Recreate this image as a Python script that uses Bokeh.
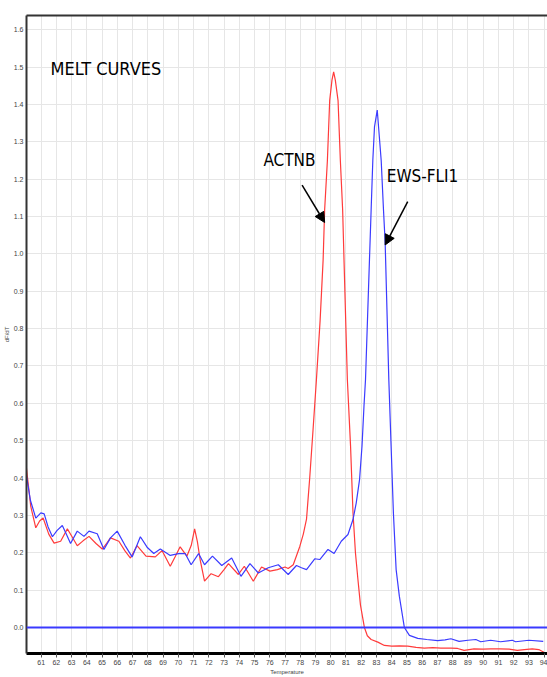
from bokeh.plotting import figure
from bokeh.models import (Range1d, FixedTicker, Span, Label, Arrow, NormalHead, LinearAxis)
from bokeh.embed import file_html
from bokeh.resources import INLINE

# ---------------- data ----------------
actnb_t = [60.0, 60.32, 60.65, 60.9, 61.13, 61.5, 61.85, 62.28, 62.72, 63.0, 63.37, 63.75,
           64.14, 64.6, 65.01, 65.3, 65.55, 66.1, 66.5, 66.86, 67.29, 67.88, 68.49, 68.93,
           69.47, 69.8, 70.12, 70.56, 70.85, 71.07, 71.25, 71.43, 71.72, 72.15, 72.63, 73.0,
           73.29, 73.94, 74.33, 74.92, 75.46, 76.01, 76.5, 77.0, 77.21, 77.54, 77.97, 78.2,
           78.41, 78.62, 78.84, 79.06, 79.3, 79.5, 79.6, 79.78, 79.93, 80.08, 80.19, 80.3,
           80.48, 80.63, 80.78, 80.87, 81.09, 81.3, 81.46, 81.62, 81.78, 81.95, 82.21, 82.4,
           82.65, 83.09, 83.52, 84.0, 84.5, 85.05, 85.6, 86.14, 86.7, 87.23, 87.88, 88.32,
           88.75, 89.4, 90.0, 90.5, 91.08, 91.7, 92.24, 92.7, 93.22, 93.65, 93.98]
actnb_v = [0.44, 0.324, 0.267, 0.285, 0.293, 0.25, 0.226, 0.231, 0.264, 0.245, 0.219, 0.232,
           0.244, 0.225, 0.21, 0.225, 0.24, 0.231, 0.205, 0.186, 0.219, 0.191, 0.189, 0.206,
           0.164, 0.19, 0.216, 0.191, 0.22, 0.264, 0.23, 0.182, 0.124, 0.144, 0.136, 0.155,
           0.171, 0.142, 0.164, 0.124, 0.162, 0.151, 0.155, 0.162, 0.158, 0.168, 0.217, 0.25,
           0.29, 0.40, 0.53, 0.663, 0.82, 0.984, 1.118, 1.25, 1.41, 1.465, 1.487, 1.465,
           1.41, 1.25, 1.118, 0.984, 0.663, 0.485, 0.307, 0.2, 0.13, 0.06, 0.0, -0.022,
           -0.032, -0.039, -0.048, -0.05, -0.049, -0.05, -0.053, -0.055, -0.054, -0.055, -0.055, -0.056,
           -0.061, -0.057, -0.058, -0.057, -0.057, -0.058, -0.061, -0.059, -0.057, -0.059, -0.066]

ews_t = [60.0, 60.3, 60.65, 60.98, 61.2, 61.45, 61.74, 62.05, 62.39, 62.65, 62.93, 63.37,
         63.81, 64.14, 64.68, 65.12, 65.55, 65.99, 66.5, 66.97, 67.51, 67.95, 68.39, 68.82,
         69.47, 70.02, 70.45, 70.84, 71.33, 71.72, 72.24, 72.85, 73.5, 74.11, 74.7, 75.25,
         75.9, 76.56, 77.21, 77.75, 78.08, 78.41, 78.95, 79.28, 79.82, 80.22, 80.69, 81.13,
         81.46, 81.67, 81.89, 82.05, 82.18, 82.28, 82.54, 82.65, 82.76, 82.87, 83.05, 83.31,
         83.46, 83.57, 83.81, 83.96, 84.11, 84.29, 84.5, 84.83, 85.16, 85.71, 86.3, 87.01,
         87.5, 87.88, 88.42, 89.0, 89.52, 89.84, 90.49, 91.14, 91.91, 92.13, 93.0, 93.94]
ews_v = [0.415, 0.34, 0.293, 0.307, 0.304, 0.27, 0.243, 0.26, 0.273, 0.25, 0.225, 0.258,
         0.244, 0.258, 0.251, 0.209, 0.24, 0.258, 0.22, 0.189, 0.243, 0.215, 0.198, 0.21,
         0.193, 0.198, 0.198, 0.168, 0.198, 0.168, 0.191, 0.166, 0.186, 0.137, 0.171, 0.146,
         0.16, 0.168, 0.142, 0.166, 0.16, 0.155, 0.184, 0.182, 0.209, 0.198, 0.231, 0.249,
         0.289, 0.333, 0.396, 0.485, 0.592, 0.663, 0.984, 1.118, 1.25, 1.34, 1.385, 1.25,
         1.118, 1.03, 0.663, 0.485, 0.307, 0.155, 0.084, 0.0, -0.021, -0.029, -0.032, -0.035,
         -0.033, -0.03, -0.037, -0.034, -0.032, -0.038, -0.034, -0.038, -0.034, -0.038, -0.034, -0.037]

x_ticks = list(range(61, 95))
x_tick_labels = [str(t) for t in x_ticks]
y_ticks = [0.0, 0.1, 0.2, 0.3, 0.4, 0.5, 0.6, 0.7, 0.8, 0.9, 1.0, 1.1, 1.2, 1.3, 1.4, 1.5, 1.6]
y_tick_labels = ["%.1f" % t for t in y_ticks]

title_text = "MELT CURVES"
series_names = ["ACTNB", "EWS-FLI1"]
x_label = "Temperature"
y_label = "dF/dT"

# ---------------- figure ----------------
NARROW = "'Liberation Sans Narrow', 'DejaVu Sans Condensed', 'Liberation Sans', sans-serif"
SANS = "Liberation Sans"

p = figure(width=547, height=677, output_backend="svg", toolbar_location=None,
           x_range=Range1d(60.04, 94.22), y_range=Range1d(-0.0695, 1.638),
           min_border_left=24, min_border_right=0, min_border_top=15, min_border_bottom=23,
           background_fill_color="white", border_fill_color="white")
p.outline_line_color = None

# axes
p.xaxis.ticker = FixedTicker(ticks=x_ticks)
p.xaxis.major_label_overrides = {t: l for t, l in zip(x_ticks, x_tick_labels)}
p.yaxis.ticker = FixedTicker(ticks=y_ticks)
p.yaxis.major_label_overrides = {t: l for t, l in zip(y_ticks, y_tick_labels)}

p.xaxis.axis_label = x_label
p.yaxis.axis_label = y_label
for ax in (p.xaxis, p.yaxis):
    ax.minor_tick_line_color = None
    ax.major_label_text_font = SANS
    ax.major_label_text_font_size = "7px"
    ax.major_label_text_color = "#444444"
    ax.axis_label_text_font = SANS
    ax.axis_label_text_font_size = "6px"
    ax.axis_label_text_font_style = "normal"
    ax.axis_label_text_color = "#444444"
    ax.axis_label_standoff = 1

p.xaxis.axis_line_width = 3
p.xaxis.axis_line_color = "black"
p.xaxis.major_tick_out = 4
p.xaxis.major_tick_in = 0
p.xaxis.major_tick_line_color = "#555555"
p.xaxis.major_label_standoff = 2

p.yaxis.axis_line_width = 2
p.yaxis.axis_line_color = "#333333"
p.yaxis.major_tick_out = 0
p.yaxis.major_tick_in = 0
p.yaxis.major_label_standoff = 3

top_axis = LinearAxis(ticker=FixedTicker(ticks=[]), axis_line_color="#333333",
                      axis_line_width=2, major_label_text_font_size="0px",
                      major_tick_out=0, major_tick_in=0, minor_tick_line_color=None)
p.add_layout(top_axis, "above")

p.xgrid.grid_line_color = "#e6e6e6"
p.ygrid.grid_line_color = "#e6e6e6"

# zero baseline
p.add_layout(Span(location=0, dimension="width", line_color="#3a3aff", line_width=2))

# curves
p.line(actnb_t, actnb_v, line_color="#ff3b3b", line_width=1.2)
p.line(ews_t, ews_v, line_color="#3b3bff", line_width=1.2)

# annotations
p.add_layout(Label(x=61.61, y=1.495, text=title_text, text_font=NARROW,
                   text_font_size="18px", text_baseline="middle", text_color="black"))
p.add_layout(Label(x=77.29, y=1.251, text=series_names[0], text_font=NARROW,
                   text_font_size="17px", text_align="center", text_baseline="middle",
                   text_color="black"))
p.add_layout(Label(x=86.02, y=1.209, text=series_names[1], text_font=NARROW,
                   text_font_size="17px", text_align="center", text_baseline="middle",
                   text_color="black"))
p.add_layout(Arrow(end=NormalHead(size=10, fill_color="black", line_color="black"),
                   x_start=78.12, y_start=1.184, x_end=79.6, y_end=1.084,
                   line_width=1.5, line_color="black"))
p.add_layout(Arrow(end=NormalHead(size=10, fill_color="black", line_color="black"),
                   x_start=85.05, y_start=1.14, x_end=83.57, y_end=1.024,
                   line_width=1.5, line_color="black"))

open("out.html", "w").write(file_html(p, INLINE))
